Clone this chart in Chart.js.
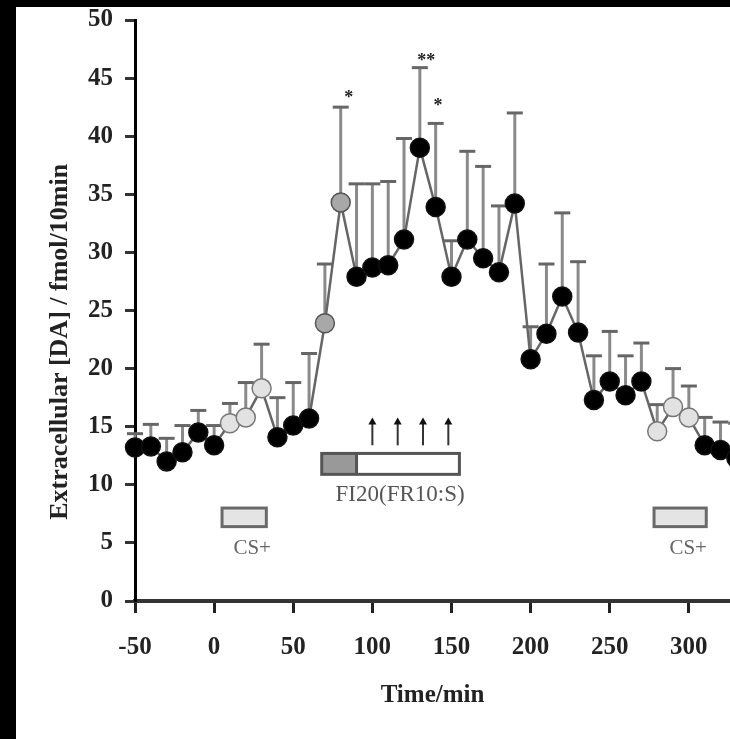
<!DOCTYPE html>
<html>
<head>
<meta charset="utf-8">
<script src="https://cdn.jsdelivr.net/npm/chart.js@4.4.1/dist/chart.umd.min.js"></script>
<style>
body{margin:0;background:#000;width:730px;height:739px;overflow:hidden;}
#chart{position:absolute;left:16px;top:7px;background:#fff;}
</style>
</head>
<body>
<canvas id="chart" width="714" height="732"></canvas>
<script>
// sampling times (min) and extracellular DA (fmol/10min)
let times  = [-50,-40,-30,-20,-10,0,10,20,30,40,50,60,70,80,90,100,110,120,130,140,150,160,170,180,190,200,210,220,230,240,250,260,270,280,290,300,310,320,330];
let meanDA = [13.2,13.3,12.0,12.8,14.5,13.4,15.3,15.8,18.3,14.1,15.1,15.7,23.9,34.3,27.9,28.7,28.9,31.1,39.0,33.9,27.9,31.1,29.5,28.3,34.2,20.8,23.0,26.2,23.1,17.3,18.9,17.7,18.9,14.6,16.7,15.8,13.4,13.0,12.3];
let semTop = [14.4,15.2,14.0,15.1,16.4,15.1,17.0,18.8,22.1,17.5,18.8,21.3,29.0,42.5,35.9,35.9,36.1,39.8,45.9,41.1,31.0,38.7,37.4,34.0,42.0,23.6,29.0,33.4,29.2,21.1,23.2,21.1,22.2,16.9,20.0,18.5,15.8,15.4,15.3];
// b = black, g = grey (FI), l = light (CS+)
let markerKind = ['b','b','b','b','b','b','l','l','l','b','b','b','g','g','b','b','b','b','b','b','b','b','b','b','b','b','b','b','b','b','b','b','b','l','l','l','b','b','b'];

let xTicks = [-50,0,50,100,150,200,250,300];
let yTicks = [0,5,10,15,20,25,30,35,40,45,50];

let csWindows = [[5,33],[278,311]];
let fiWindow = [68,155];
let fiDark = [68,90];
let pressTimes = [100,116,132,148];
let stars = [[85,43.6,'*'],[134,46.8,'**'],[141.5,42.9,'*']];

const serif = "'Liberation Serif', 'DejaVu Serif', serif";

const fills = {b:'#000', g:'#a8a8a8', l:'#e2e2e2'};
const edges = {b:'#111', g:'#555', l:'#777'};

let points = times.map((t, i) => ({x: t, y: meanDA[i]}));

const errorBars = {
	id: 'errorBars',
	beforeDatasetsDraw(chart){
		const {ctx, scales: {x, y}} = chart;
		ctx.save();
		for(let i = 0; i < times.length; i++){
			let px = x.getPixelForValue(times[i]);
			let y0 = y.getPixelForValue(meanDA[i]);
			let y1 = y.getPixelForValue(semTop[i]);
			ctx.strokeStyle = '#8a8a8a';
			ctx.lineWidth = 3;
			ctx.beginPath();
			ctx.moveTo(px, y0);
			ctx.lineTo(px, y1);
			ctx.stroke();
			ctx.strokeStyle = '#666';
			ctx.lineWidth = 3;
			ctx.beginPath();
			ctx.moveTo(px - 8, y1);
			ctx.lineTo(px + 8, y1);
			ctx.stroke();
		}
		ctx.restore();
	}
};

const notes = {
	id: 'notes',
	afterDatasetsDraw(chart){
		const {ctx, scales: {x, y}} = chart;
		ctx.save();
		// CS+ boxes
		csWindows.forEach(w => {
			let l = x.getPixelForValue(w[0]), r = x.getPixelForValue(w[1]);
			let t = y.getPixelForValue(8.0), b = y.getPixelForValue(6.4);
			ctx.fillStyle = '#e4e4e4';
			ctx.fillRect(l, t, r - l, b - t);
			ctx.strokeStyle = '#6a6a6a';
			ctx.lineWidth = 3;
			ctx.strokeRect(l, t, r - l, b - t);
			ctx.fillStyle = '#666';
			ctx.font = '21px ' + serif;
			ctx.textAlign = 'center';
			ctx.textBaseline = 'middle';
			ctx.fillText('CS+', (l + r) / 2 + 8, y.getPixelForValue(4.5));
		});
		// FI20 bar
		let l = x.getPixelForValue(fiWindow[0]), r = x.getPixelForValue(fiWindow[1]);
		let m = x.getPixelForValue(fiDark[1]);
		let t = y.getPixelForValue(12.7), b = y.getPixelForValue(10.9);
		ctx.fillStyle = '#fff';
		ctx.fillRect(l, t, r - l, b - t);
		ctx.fillStyle = '#999';
		ctx.fillRect(l, t, m - l, b - t);
		ctx.strokeStyle = '#555';
		ctx.lineWidth = 3;
		ctx.strokeRect(l, t, r - l, b - t);
		ctx.beginPath();
		ctx.moveTo(m, t);
		ctx.lineTo(m, b);
		ctx.stroke();
		ctx.fillStyle = '#555';
		ctx.font = '23px ' + serif;
		ctx.textAlign = 'center';
		ctx.textBaseline = 'middle';
		ctx.fillText('FI20(FR10:S)', x.getPixelForValue(117.5), y.getPixelForValue(9.1));
		// lever press arrows
		pressTimes.forEach(p => {
			let px = x.getPixelForValue(p);
			let yb = y.getPixelForValue(13.4), yt = y.getPixelForValue(15.8);
			ctx.strokeStyle = '#333';
			ctx.lineWidth = 2;
			ctx.beginPath();
			ctx.moveTo(px, yb);
			ctx.lineTo(px, yt + 4);
			ctx.stroke();
			ctx.fillStyle = '#111';
			ctx.beginPath();
			ctx.moveTo(px, yt);
			ctx.lineTo(px - 4, yt + 7);
			ctx.lineTo(px + 4, yt + 7);
			ctx.closePath();
			ctx.fill();
		});
		// significance marks
		ctx.fillStyle = '#222';
		ctx.font = 'bold 18px ' + serif;
		stars.forEach(s => {
			ctx.fillText(s[2], x.getPixelForValue(s[0]), y.getPixelForValue(s[1]) + 4);
		});
		// y axis title
		ctx.translate(44, y.getPixelForValue(22.3));
		ctx.rotate(-Math.PI / 2);
		ctx.fillStyle = '#222';
		ctx.font = 'bold 26px ' + serif;
		ctx.fillText('Extracellular [DA] / fmol/10min', 0, 0);
		ctx.restore();
	}
};

new Chart(document.getElementById('chart'), {
	type: 'line',
	data: {
		datasets: [{
			data: points,
			borderColor: '#666',
			borderWidth: 2.5,
			tension: 0,
			clip: false,
			pointRadius: 9.5,
			pointHoverRadius: 9.5,
			pointBorderWidth: 1.5,
			pointBackgroundColor: markerKind.map(k => fills[k]),
			pointBorderColor: markerKind.map(k => edges[k])
		}]
	},
	options: {
		responsive: false,
		animation: false,
		devicePixelRatio: 1,
		layout: {padding: 0, autoPadding: false},
		plugins: {legend: {display: false}, tooltip: {enabled: false}},
		scales: {
			x: {
				type: 'linear',
				min: -50,
				max: 326,
				afterBuildTicks(s){ s.ticks = xTicks.map(v => ({value: v})); },
				afterFit(s){ s.height = 138; s.paddingLeft = 0; s.paddingRight = 0; },
				ticks: {font: {family: serif, size: 25, weight: 'bold'}, color: '#222', padding: 20},
				grid: {drawOnChartArea: false, tickLength: 12, tickWidth: 3, tickColor: '#222'},
				border: {color: '#333', width: 4},
				title: {display: true, text: 'Time/min', color: '#222', font: {family: serif, size: 25, weight: 'bold'}, padding: {top: 0, bottom: 28}}
			},
			y: {
				min: 0,
				max: 50,
				afterBuildTicks(s){ s.ticks = yTicks.map(v => ({value: v})); },
				afterFit(s){ s.width = 119; s.paddingTop = 13; },
				ticks: {font: {family: serif, size: 25, weight: 'bold'}, color: '#222', padding: 12},
				grid: {drawOnChartArea: false, tickLength: 10, tickWidth: 3, tickColor: '#333'},
				border: {color: '#000', width: 3}
			}
		}
	},
	plugins: [errorBars, notes]
});
</script>
</body>
</html>
